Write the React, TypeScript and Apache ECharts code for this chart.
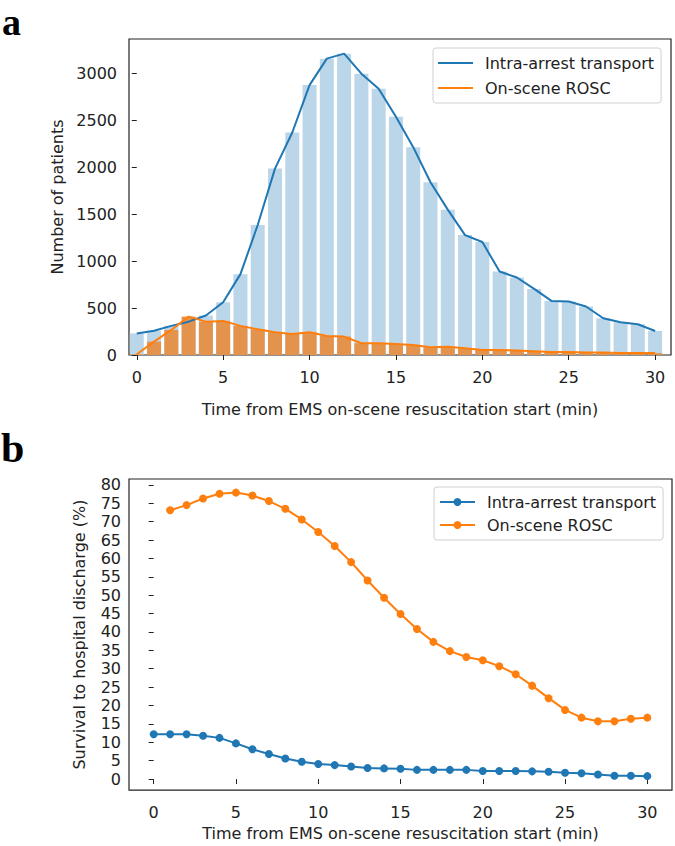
import React, { useEffect, useRef } from "react";
import * as echarts from "echarts";

const minutes = [0, 1, 2, 3, 4, 5, 6, 7, 8, 9, 10, 11, 12, 13, 14, 15, 16, 17, 18, 19, 20, 21, 22, 23, 24, 25, 26, 27, 28, 29, 30];
const xTicks = [0, 5, 10, 15, 20, 25, 30];
const countTicks = [0, 500, 1000, 1500, 2000, 2500, 3000];
const survivalTicks = [0, 5, 10, 15, 20, 25, 30, 35, 40, 45, 50, 55, 60, 65, 70, 75, 80];

const transportCounts = [230, 258, 310, 355, 420, 562, 861, 1384, 1985, 2369, 2874, 3156, 3209, 2996, 2836, 2537, 2213, 1840, 1548, 1277, 1203, 889, 825, 704, 576, 569, 516, 391, 349, 328, 256];
const roscCounts = [8, 142, 267, 409, 355, 363, 310, 274, 242, 224, 242, 203, 196, 125, 125, 117, 107, 82, 89, 71, 53, 53, 47, 40, 33, 33, 26, 26, 20, 20, 20];

const transportSurvival = [12.2, 12.2, 12.2, 11.8, 11.2, 9.7, 8.1, 6.8, 5.6, 4.7, 4.1, 3.8, 3.4, 3.0, 2.9, 2.8, 2.5, 2.5, 2.5, 2.5, 2.2, 2.2, 2.2, 2.1, 2.0, 1.7, 1.6, 1.25, 0.9, 0.9, 0.8];
const roscMinutes = minutes.slice(1);
const roscSurvival = [73.1, 74.5, 76.3, 77.6, 77.9, 77.1, 75.6, 73.5, 70.6, 67.2, 63.4, 59.0, 54.0, 49.3, 44.9, 40.8, 37.3, 34.8, 33.2, 32.3, 30.7, 28.5, 25.4, 22.0, 18.8, 16.7, 15.7, 15.7, 16.4, 16.7];

const seriesNames = ["Intra-arrest transport", "On-scene ROSC"];

const BLUE = "#1f77b4";
const ORANGE = "#ff7f0e";
const FONT = "DejaVu Sans";
const TXT = "#222";

const plain = (v: number) => String(v);

const legendBase = {
  orient: "vertical",
  backgroundColor: "rgba(255,255,255,0.85)",
  borderColor: "#d0d0d0",
  borderWidth: 1,
  borderRadius: 3,
  padding: [6, 7, 6, 5],
  itemWidth: 35,
  itemHeight: 10,
  itemGap: 7,
  textStyle: { fontFamily: FONT, fontSize: 16, color: TXT, lineHeight: 18, padding: [0, 0, 0, 7] },
};

function tick(values: number[]) {
  return { show: true, inside: false, length: 5, lineStyle: { color: TXT, width: 1 }, customValues: values };
}

function topOption() {
  return {
    animation: false,
    backgroundColor: "#fff",
    graphic: [
      {
        type: "text",
        left: 2,
        top: 3,
        style: { text: "a", fontFamily: "Liberation Serif", fontWeight: "bold", fontSize: 38, lineHeight: 22, fill: "#000" },
      },
    ],
    grid: { left: 129, top: 39, width: 542, height: 316, show: true, borderColor: TXT, borderWidth: 1.2, backgroundColor: "transparent" },
    legend: {
      ...legendBase,
      left: 433,
      top: 48,
      itemHeight: 2,
      data: seriesNames.map((n) => ({ name: n, icon: "rect" })),
    },
    xAxis: {
      type: "value",
      min: -0.45,
      max: 30.92,
      axisLine: { show: false },
      splitLine: { show: false },
      axisTick: tick(xTicks),
      axisLabel: { customValues: xTicks, formatter: plain, fontFamily: FONT, fontSize: 16, color: TXT, margin: 14 },
      name: "Time from EMS on-scene resuscitation start (min)",
      nameLocation: "middle",
      nameGap: 46,
      nameTextStyle: { fontFamily: FONT, fontSize: 16, color: TXT },
    },
    yAxis: {
      type: "value",
      min: 0,
      max: 3365,
      axisLine: { show: false },
      splitLine: { show: false },
      axisTick: tick(countTicks),
      axisLabel: { customValues: countTicks, formatter: plain, fontFamily: FONT, fontSize: 16, color: TXT, margin: 12 },
      name: "Number of patients",
      nameLocation: "middle",
      nameGap: 57,
      nameTextStyle: { fontFamily: FONT, fontSize: 16, color: TXT },
    },
    series: [
      {
        type: "bar",
        name: "bars-transport",
        data: minutes.map((m, i) => [m, transportCounts[i]]),
        barWidth: 14,
        itemStyle: { color: "#bcd6e9" },
        z: 1,
      },
      {
        type: "bar",
        name: "bars-rosc",
        data: minutes.map((m, i) => [m, roscCounts[i]]),
        barWidth: 14,
        barGap: "-100%",
        itemStyle: { color: "#e3934c" },
        z: 2,
      },
      {
        type: "line",
        name: seriesNames[0],
        data: minutes.map((m, i) => [m, transportCounts[i]]),
        symbol: "none",
        lineStyle: { color: BLUE, width: 2 },
        itemStyle: { color: BLUE },
        z: 3,
      },
      {
        type: "line",
        name: seriesNames[1],
        data: minutes.map((m, i) => [m, roscCounts[i]]),
        symbol: "none",
        lineStyle: { color: ORANGE, width: 2 },
        itemStyle: { color: ORANGE },
        z: 4,
      },
    ],
  };
}

function bottomOption() {
  return {
    animation: false,
    backgroundColor: "#fff",
    graphic: [
      {
        type: "text",
        left: 1,
        top: 4,
        style: { text: "b", fontFamily: "Liberation Serif", fontWeight: "bold", fontSize: 42, lineHeight: 30, fill: "#000" },
      },
    ],
    grid: { left: 129, top: 56, width: 543, height: 315, show: true, borderColor: TXT, borderWidth: 1.2, backgroundColor: "transparent" },
    legend: { ...legendBase, left: 434, top: 64, itemGap: 5, data: seriesNames },
    xAxis: {
      type: "value",
      min: -1.5,
      max: 31.5,
      axisLine: { show: false },
      splitLine: { show: false },
      axisTick: tick(xTicks),
      axisLabel: { customValues: xTicks, formatter: plain, fontFamily: FONT, fontSize: 16, color: TXT, margin: 14 },
      name: "Time from EMS on-scene resuscitation start (min)",
      nameLocation: "middle",
      nameGap: 34,
      nameTextStyle: { fontFamily: FONT, fontSize: 16, color: TXT },
    },
    yAxis: {
      type: "value",
      min: -3.0,
      max: 81.6,
      axisLine: { show: false },
      splitLine: { show: false },
      axisTick: tick(survivalTicks),
      axisLabel: { customValues: survivalTicks, formatter: plain, fontFamily: FONT, fontSize: 16, color: TXT, margin: 8 },
      name: "Survival to hospital discharge (%)",
      nameLocation: "middle",
      nameGap: 42,
      nameTextStyle: { fontFamily: FONT, fontSize: 16, color: TXT },
    },
    series: [
      {
        type: "line",
        name: seriesNames[0],
        data: minutes.map((m, i) => [m, transportSurvival[i]]),
        symbol: "circle",
        symbolSize: 8,
        lineStyle: { color: BLUE, width: 2 },
        itemStyle: { color: BLUE },
      },
      {
        type: "line",
        name: seriesNames[1],
        data: roscMinutes.map((m, i) => [m, roscSurvival[i]]),
        symbol: "circle",
        symbolSize: 8,
        lineStyle: { color: ORANGE, width: 2 },
        itemStyle: { color: ORANGE },
      },
    ],
  };
}

function Chart({ option, top, height }: { option: any; top: number; height: number }) {
  const ref = useRef<HTMLDivElement>(null);
  useEffect(() => {
    if (!ref.current) return;
    const chart = echarts.init(ref.current, undefined, { renderer: "svg" });
    chart.setOption(option);
    return () => chart.dispose();
  }, []);
  return <div ref={ref} style={{ position: "absolute", left: 0, top, width: 675, height }} />;
}

export default function App() {
  return (
    <div style={{ position: "absolute", left: 0, top: 0, width: 675, height: 846, background: "#fff" }}>
      <Chart option={topOption()} top={0} height={423} />
      <Chart option={bottomOption()} top={423} height={423} />
    </div>
  );
}
